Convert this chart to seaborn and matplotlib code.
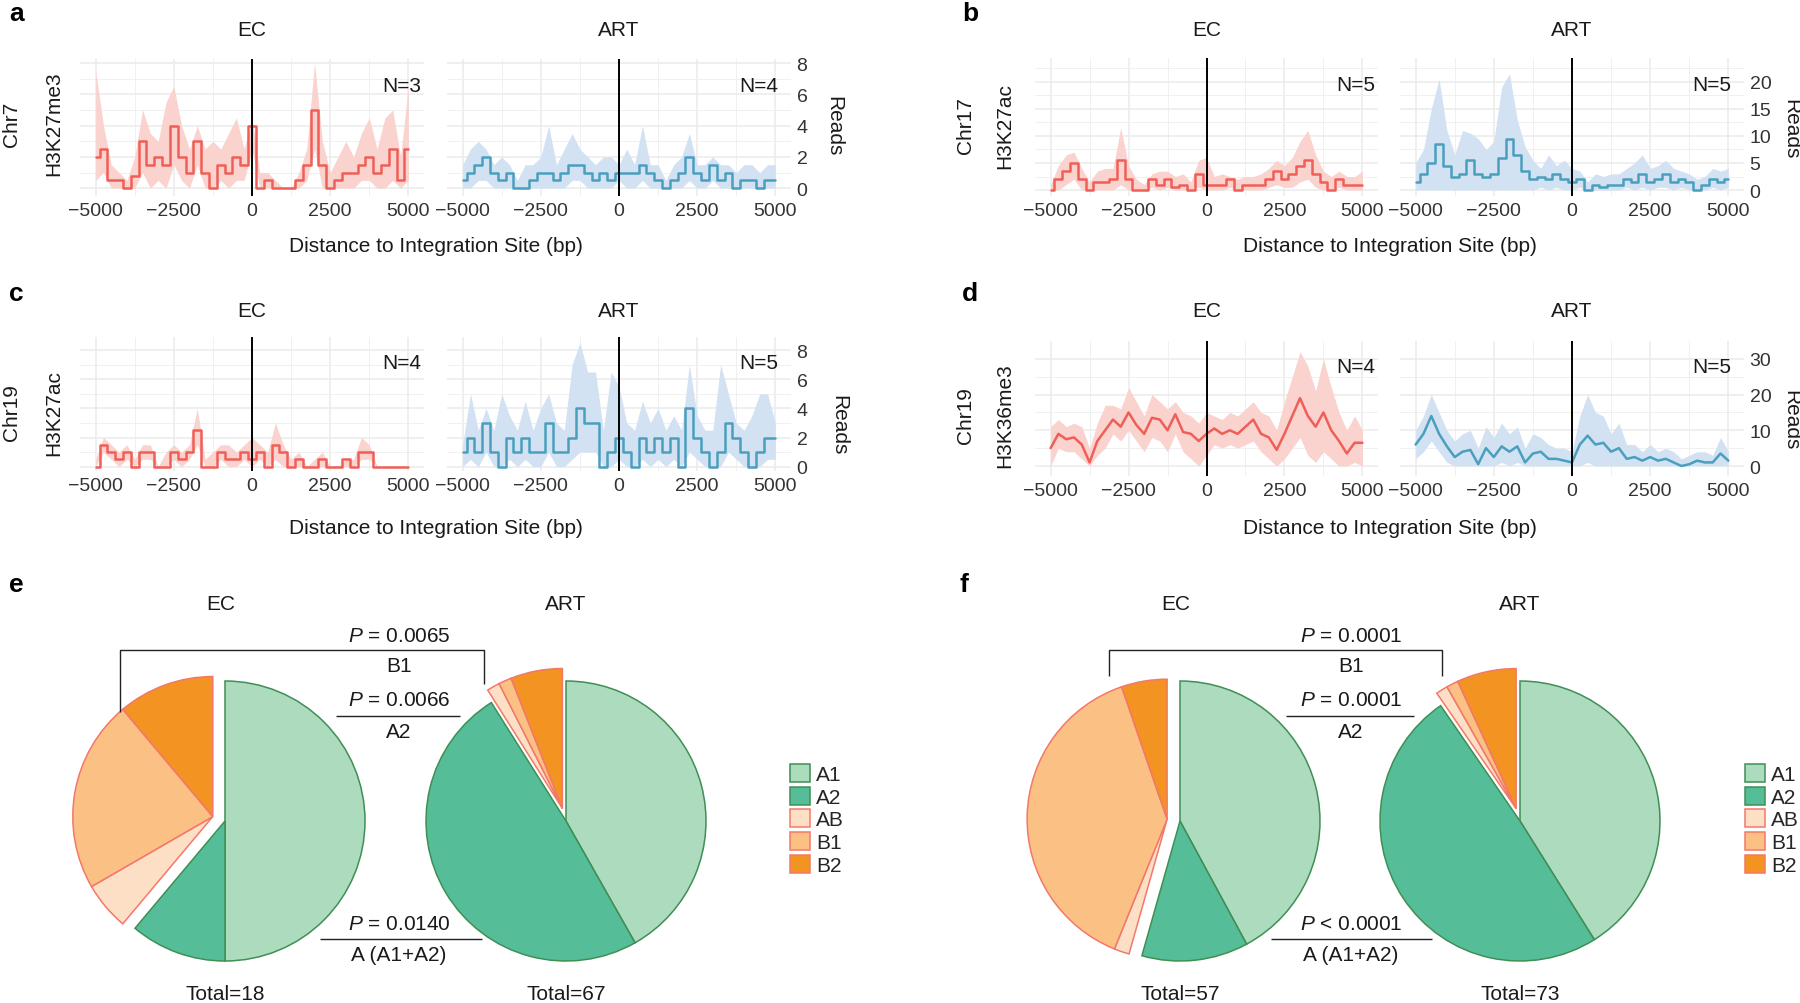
import numpy as np
import pandas as pd
import matplotlib
matplotlib.use('Agg')
import matplotlib.pyplot as plt
import seaborn as sns

W, H = 1800, 1004
FS = 15

sns.set_theme(style='white')
plt.rcParams['font.family'] = ['Liberation Sans', 'DejaVu Sans']
plt.rcParams['mathtext.fontset'] = 'custom'
plt.rcParams['mathtext.rm'] = 'Liberation Sans'
plt.rcParams['mathtext.it'] = 'Liberation Sans:italic'

# ---- read profiles, every 250 bp from -5000 to 5000 ----
dist = list(range(-5000, 5001, 250))

a_ec_mean = [2.0, 2.5, 0.5, 0.5, 0.0, 0.8, 3.0, 1.5, 2.0, 1.5,
             4.0, 2.0, 1.0, 3.0, 1.0, 0.0, 1.5, 1.0, 2.0, 1.5,
             4.0, 0.0, 0.5, 0.0, 0.0, 0.0, 0.5, 1.5, 5.0, 1.5,
             0.0, 0.5, 1.0, 1.0, 1.5, 2.0, 1.0, 1.5, 2.5, 0.5, 2.5]
a_ec_hi = [7.5, 4.0, 1.5, 1.0, 0.5, 2.0, 5.0, 3.5, 3.0, 5.5,
           6.5, 4.0, 2.5, 4.0, 2.5, 3.0, 2.5, 3.5, 4.5, 2.5,
           4.5, 1.0, 1.0, 0.5, 0.0, 0.0, 1.0, 2.5, 8.0, 3.0,
           1.0, 2.0, 3.0, 2.0, 3.5, 4.5, 2.5, 4.5, 5.0, 2.0, 6.5]
a_ec_lo = [0.5, 1.0, 0.0, 0.0, 0.0, 0.0, 1.0, 0.0, 0.5, 0.0,
           1.5, 0.5, 0.0, 1.5, 0.0, 0.0, 0.5, 0.0, 0.5, 0.5,
           2.5, 0.0, 0.0, 0.0, 0.0, 0.0, 0.0, 0.5, 2.5, 0.0,
           0.0, 0.0, 0.0, 0.0, 0.5, 0.5, 0.0, 0.0, 0.5, 0.0, 0.5]
a_art_mean = [0.5, 1.0, 1.5, 2.0, 1.0, 0.5, 1.0, 0.0, 0.0, 0.5,
              1.0, 1.0, 0.5, 1.0, 1.5, 1.5, 1.0, 0.5, 1.0, 0.5,
              1.0, 1.0, 1.0, 1.5, 1.0, 0.5, 0.0, 0.5, 1.0, 2.0,
              1.0, 0.5, 1.5, 0.5, 1.0, 0.0, 0.5, 0.5, 0.0, 0.5, 0.5]
a_art_hi = [1.5, 2.5, 3.0, 2.5, 1.5, 2.0, 1.5, 0.5, 1.5, 1.5,
            2.0, 4.0, 1.5, 2.5, 3.5, 2.5, 2.0, 1.5, 2.0, 2.0,
            1.5, 2.5, 1.5, 4.0, 1.5, 1.5, 0.5, 1.5, 2.0, 3.5,
            1.5, 1.5, 2.0, 1.5, 1.5, 1.0, 1.5, 1.5, 1.0, 1.5, 1.5]
a_art_lo = [0.0, 0.0, 0.5, 0.5, 0.0, 0.0, 0.0, 0.0, 0.0, 0.0,
            0.0, 0.0, 0.0, 0.0, 0.5, 0.5, 0.0, 0.0, 0.0, 0.0,
            0.5, 0.0, 0.0, 0.5, 0.0, 0.0, 0.0, 0.0, 0.0, 0.5,
            0.0, 0.0, 0.5, 0.0, 0.0, 0.0, 0.0, 0.0, 0.0, 0.0, 0.0]

b_ec_mean = [0.0, 2.0, 3.5, 5.0, 2.0, 0.0, 1.5, 1.5, 2.0, 5.5,
             2.0, 0.0, 0.0, 2.0, 1.0, 2.0, 0.5, 1.0, 0.0, 3.0,
             1.0, 1.0, 1.0, 2.0, 0.0, 1.0, 1.0, 1.0, 2.0, 3.5,
             2.0, 3.0, 4.5, 5.5, 3.0, 1.5, 0.0, 2.0, 1.0, 1.0, 1.0]
b_ec_hi = [1.0, 4.5, 6.5, 7.0, 4.0, 1.5, 3.5, 4.0, 4.0, 11.5,
           4.5, 2.0, 1.0, 3.0, 3.5, 3.5, 2.5, 3.0, 1.5, 5.5,
           6.0, 2.5, 3.0, 2.5, 2.0, 2.5, 2.5, 3.0, 4.0, 5.5,
           4.5, 6.0, 9.0, 11.0, 6.5, 3.5, 2.5, 3.5, 2.5, 2.5, 3.5]
b_ec_lo = [0.0, 0.0, 1.0, 2.0, 0.0, 0.0, 0.0, 0.0, 0.0, 1.0,
           0.0, 0.0, 0.0, 0.5, 0.0, 0.5, 0.0, 0.0, 0.0, 0.5,
           0.0, 0.0, 0.0, 0.5, 0.0, 0.0, 0.0, 0.0, 0.5, 1.0,
           0.5, 0.5, 1.5, 2.0, 0.5, 0.0, 0.0, 0.5, 0.0, 0.0, 0.0]
b_art_mean = [1.5, 3.0, 5.0, 8.5, 4.5, 2.5, 3.0, 5.5, 3.0, 2.5,
              3.0, 6.0, 9.5, 6.5, 3.5, 2.0, 2.5, 2.0, 3.0, 2.0,
              1.5, 2.0, 0.0, 1.0, 0.5, 1.0, 1.0, 2.0, 1.5, 3.0,
              1.5, 2.0, 3.0, 1.5, 2.0, 1.5, 0.0, 1.0, 2.0, 1.5, 2.0]
b_art_hi = [5.0, 7.5, 15.0, 20.5, 11.0, 6.5, 11.0, 10.5, 9.5, 7.5,
            9.0, 19.0, 21.5, 13.0, 8.0, 5.5, 4.0, 6.5, 4.5, 5.5,
            4.0, 3.5, 1.5, 3.0, 2.5, 3.0, 3.0, 4.0, 5.0, 6.5,
            4.0, 4.5, 5.5, 4.0, 3.5, 3.0, 2.0, 2.5, 4.0, 3.5, 4.0]
b_art_lo = [0.0, 0.0, 0.0, 0.0, 0.0, 0.0, 0.0, 0.0, 0.0, 0.0,
            0.0, 0.0, 0.0, 0.0, 0.0, 0.0, 0.5, 0.0, 0.5, 0.0,
            0.0, 0.5, 0.0, 0.0, 0.0, 0.0, 0.0, 0.5, 0.0, 0.5,
            0.0, 0.5, 0.5, 0.0, 0.5, 0.0, 0.0, 0.0, 0.5, 0.0, 0.5]

c_ec_mean = [0.0, 1.5, 1.0, 0.5, 1.0, 0.0, 1.0, 1.0, 0.0, 0.0,
             1.0, 0.5, 1.0, 2.5, 0.0, 0.0, 1.0, 0.5, 0.5, 1.0,
             0.5, 1.0, 0.0, 1.5, 1.0, 0.0, 0.5, 0.0, 0.0, 0.5,
             0.0, 0.0, 0.5, 0.0, 1.0, 1.0, 0.0, 0.0, 0.0, 0.0, 0.0]
c_ec_hi = [0.5, 2.0, 1.5, 1.0, 1.5, 0.5, 1.5, 1.5, 0.0, 1.0,
           1.5, 1.0, 1.5, 4.0, 0.5, 1.0, 1.5, 1.5, 1.0, 1.5,
           2.0, 1.5, 1.0, 3.0, 1.5, 0.5, 1.0, 0.0, 0.5, 1.0,
           0.0, 0.0, 0.5, 0.5, 2.0, 1.5, 0.0, 0.0, 0.0, 0.0, 0.0]
c_ec_lo = [0.0, 1.0, 0.5, 0.0, 0.5, 0.0, 0.5, 0.5, 0.0, 0.0,
           0.5, 0.0, 0.5, 1.5, 0.0, 0.0, 0.5, 0.0, 0.0, 0.5,
           0.0, 0.5, 0.0, 0.5, 0.0, 0.0, 0.0, 0.0, 0.0, 0.0,
           0.0, 0.0, 0.0, 0.0, 0.5, 0.5, 0.0, 0.0, 0.0, 0.0, 0.0]
c_art_mean = [1, 2, 1, 3, 1, 0, 2, 1, 2, 1,
              1, 3, 1, 1, 2, 4, 3, 3, 0, 1,
              2, 1, 0, 2, 1, 2, 1, 2, 0, 4,
              2, 1, 0, 1, 3, 2, 1, 0, 1, 2, 2]
c_art_hi = [1.5, 5.0, 2.5, 4.0, 2.5, 5.0, 3.5, 2.5, 4.5, 2.5,
            4.0, 5.0, 3.0, 2.5, 7.0, 8.5, 6.5, 6.5, 2.5, 6.5,
            5.5, 3.0, 2.5, 4.5, 3.0, 4.0, 2.5, 3.5, 2.5, 7.0,
            3.5, 2.5, 2.5, 7.0, 5.0, 3.0, 2.5, 3.5, 5.0, 5.0, 3.0]
c_art_lo = [0, 0.5, 0, 1, 0, 0, 0.5, 0, 0.5, 0,
            0, 1, 0, 0, 0.5, 1, 1, 1, 0, 0,
            0.5, 0, 0, 0.5, 0, 0.5, 0, 0.5, 0, 1,
            0.5, 0, 0, 0, 1, 0.5, 0, 0, 0, 0.5, 0.5]

d_ec_mean = [5.0, 9.0, 7.5, 8.0, 6.0, 1.0, 7.0, 10.0, 13.0, 11.0,
             15.0, 11.5, 9.0, 13.5, 13.0, 10.0, 14.5, 9.5, 9.0, 7.0,
             9.0, 10.5, 9.0, 10.0, 9.0, 11.0, 13.0, 9.0, 8.0, 4.5,
             9.0, 14.0, 19.0, 14.0, 11.0, 15.0, 10.0, 7.0, 3.5, 6.5, 6.5]
d_ec_hi = [11, 13, 11, 12, 11, 5, 12, 17, 17, 16,
           22, 18, 14, 20, 18, 16, 18, 15, 14, 12,
           15, 14, 13, 15, 14, 16, 18, 15, 14, 10,
           18, 25, 32, 28, 21, 30, 22, 15, 10, 14, 10]
d_ec_lo = [0, 5, 4, 4, 2, 0, 3, 5, 9, 7,
           10, 7, 4, 8, 7, 4, 9, 4, 2, 0,
           3, 6, 5, 6, 5, 6, 7, 4, 2, 0,
           2, 5, 8, 3, 1, 4, 2, 0, 0, 1, 0]
d_art_mean = [6.0, 9.0, 14.0, 9.0, 5.5, 2.5, 4.0, 4.5, 0.5, 5.0,
              2.5, 5.5, 4.0, 5.5, 1.0, 3.5, 4.0, 2.0, 2.0, 1.5,
              1.0, 6.0, 8.5, 6.0, 6.5, 4.0, 5.0, 2.0, 2.5, 1.5,
              2.5, 1.5, 2.0, 1.0, 0.0, 0.5, 1.5, 1.0, 1.0, 3.5, 1.5]
d_art_hi = [10, 14, 20, 15, 10, 7, 9, 10, 5, 11,
            8, 12, 9, 11, 5, 9, 8, 6, 5, 5,
            4, 14, 20, 15, 14, 9, 12, 6, 6, 4,
            6, 4, 5, 4, 2, 3, 4, 4, 3, 8, 4]
d_art_lo = [2, 4, 7, 4, 1, 0, 0, 0, 0, 0,
            0, 1, 0, 1, 0, 0, 0, 0, 0, 0,
            0, 0, 1, 0, 0, 0, 0, 0, 0, 0,
            0, 0, 0, 0, 0, 0, 0, 0, 0, 0, 0]

# ---- pie counts ----
cats = ['A1', 'A2', 'AB', 'B1', 'B2']
e_ec = [9, 2, 1, 4, 2]
e_art = [28, 33, 1, 1, 4]
f_ec = [24, 7, 1, 22, 3]
f_art = [30, 36, 1, 1, 5]

EC_LINE, EC_BAND = '#EF5F58', '#FAD2CE'
ART_LINE, ART_BAND = '#4A9FBF', '#D2E2F3'
pie_colors = ['#ADDBBE', '#55BE99', '#FDDFC5', '#FBC083', '#F29322']
pie_edges = ['#3F8F55', '#3F8F55', '#F4786A', '#F4786A', '#F4786A']

fig = plt.figure(figsize=(W / 100, H / 100), dpi=100)


def box(l, t, r, b):
    return [l / W, 1 - b / H, (r - l) / W, (b - t) / H]


def ftext(x, y, s, **kw):
    kw.setdefault('fontsize', FS)
    kw.setdefault('ha', 'center')
    kw.setdefault('va', 'center')
    kw.setdefault('color', '#1a1a1a')
    fig.text(x / W, 1 - y / H, s, **kw)


def track(rect, mean, lo, hi, color, band, ylim, yticks, yminor, nlab, nx, right, steps):
    ax = fig.add_axes(box(*rect))
    df = pd.DataFrame({'dist': dist, 'reads': mean})
    # the spread band is drawn unstepped so it reads as thin spikes
    ax.fill_between(dist, lo, hi, color=band, lw=0)
    sns.lineplot(data=df, x='dist', y='reads', ax=ax, color=color, lw=1.8,
                 drawstyle='steps-mid' if steps else 'default')
    ax.axvline(0, color='black', lw=1.4)
    ax.set_xlim(-5500, 5500)
    ax.set_ylim(*ylim)
    ax.set_xticks([-5000, -2500, 0, 2500, 5000])
    ax.set_xticks([-3750, -1250, 1250, 3750], minor=True)
    ax.set_yticks(yticks)
    ax.set_yticks(yminor, minor=True)
    ax.grid(which='major', color='#EBEBEB', lw=1.1)
    ax.grid(which='minor', color='#F0F0F0', lw=0.7)
    ax.set_axisbelow(True)
    for s in ax.spines.values():
        s.set_visible(False)
    ax.tick_params(which='both', length=0, labelsize=14, labelcolor='#333333', pad=4)
    ax.set_xlabel('')
    ax.set_ylabel('')
    if right:
        ax.yaxis.tick_right()
    else:
        ax.set_yticklabels([])
    ax.text(nx, 0.81, nlab, transform=ax.get_xaxis_transform(), ha='right', va='center',
            fontsize=FS, color='#1a1a1a')
    return ax


panels = [
    dict(letter='a', lx=9, ly=14, ec=(80, 60, 424, 197), art=(447, 60, 791, 197),
         data=(a_ec_mean, a_ec_lo, a_ec_hi, a_art_mean, a_art_lo, a_art_hi),
         ylim=(-0.5, 8.26), ticks=[0, 2, 4, 6, 8], minor=[1, 3, 5, 7],
         n=('N=3', 'N=4'), steps=True, chrom='Chr7', mark='H3K27me3',
         cx=(11, 54), cy=124, rx=834, ry=126, ty=30, xy=247),
    dict(letter='b', lx=962, ly=14, ec=(1035, 59, 1378, 197), art=(1400, 59, 1744, 197),
         data=(b_ec_mean, b_ec_lo, b_ec_hi, b_art_mean, b_art_lo, b_art_hi),
         ylim=(-1.1, 24.4), ticks=[0, 5, 10, 15, 20], minor=[2.5, 7.5, 12.5, 17.5, 22.5],
         n=('N=5', 'N=5'), steps=True, chrom='Chr17', mark='H3K27ac',
         cx=(965, 1005), cy=126, rx=1791, ry=129, ty=30, xy=247),
    dict(letter='c', lx=9, ly=294, ec=(80, 338, 424, 472), art=(447, 338, 791, 472),
         data=(c_ec_mean, c_ec_lo, c_ec_hi, c_art_mean, c_art_lo, c_art_hi),
         ylim=(-0.3, 8.9), ticks=[0, 2, 4, 6, 8], minor=[1, 3, 5, 7],
         n=('N=4', 'N=5'), steps=True, chrom='Chr19', mark='H3K27ac',
         cx=(11, 54), cy=413, rx=839, ry=425, ty=312, xy=529),
    dict(letter='d', lx=962, ly=294, ec=(1035, 342, 1378, 477), art=(1400, 342, 1744, 477),
         data=(d_ec_mean, d_ec_lo, d_ec_hi, d_art_mean, d_art_lo, d_art_hi),
         ylim=(-2.8, 35), ticks=[0, 10, 20, 30], minor=[5, 15, 25],
         n=('N=4', 'N=5'), steps=False, chrom='Chr19', mark='H3K36me3',
         cx=(965, 1005), cy=416, rx=1791, ry=420, ty=312, xy=529),
]

for p in panels:
    em, el, eh, am, al, ah = p['data']
    track(p['ec'], em, el, eh, EC_LINE, EC_BAND, p['ylim'], p['ticks'], p['minor'],
          p['n'][0], 5400, False, p['steps'])
    track(p['art'], am, al, ah, ART_LINE, ART_BAND, p['ylim'], p['ticks'], p['minor'],
          p['n'][1], 5080, True, p['steps'])
    ftext(p['lx'], p['ly'], p['letter'], fontsize=19, fontweight='bold', ha='left', color='black')
    ftext((p['ec'][0] + p['ec'][2]) / 2, p['ty'], 'EC')
    ftext((p['art'][0] + p['art'][2]) / 2, p['ty'], 'ART')
    ftext((p['ec'][0] + p['art'][2]) / 2, p['xy'], 'Distance to Integration Site (bp)')
    ftext(p['cx'][0], p['cy'], p['chrom'], rotation=90)
    ftext(p['cx'][1], p['cy'], p['mark'], rotation=90)
    ftext(p['rx'], p['ry'], 'Reads', rotation=270)

# ---- pie charts ----
pax = fig.add_axes([0, 0, 1, 1])
pax.set_axis_off()


def pie(cx, cy, values, r=140, gap=13):
    wedges, _ = pax.pie(values, colors=pie_colors, startangle=90, counterclock=False,
                        radius=r, center=(cx, H - cy), wedgeprops=dict(linewidth=1.1))
    for w, ec in zip(wedges, pie_edges):
        w.set_edgecolor(ec)
    # B-type slices are pulled out together along the bisector of their group
    frac_a = sum(values[:2]) / sum(values)
    ang = np.deg2rad(90 - 360 * (frac_a + 1) / 2)
    for w in wedges[2:]:
        w.set_center((cx + gap * np.cos(ang), H - cy + gap * np.sin(ang)))
    return wedges


def bracket(xs, ys):
    pax.plot(xs, [H - y for y in ys], color='#222222', lw=1.0, solid_capstyle='butt')


pie_rows = [
    dict(letter='e', lx=9, ec=(225, 822), art=(566, 822), vals=(e_ec, e_art),
         tot=('Total=18', 'Total=67'), px=399, top=(120, 484, 713, 685),
         mid=(336, 460), bot=(320, 482),
         p=(r'$\mathit{P}$ = 0.0065', r'$\mathit{P}$ = 0.0066', r'$\mathit{P}$ = 0.0140'),
         leg=790),
    dict(letter='f', lx=959, ec=(1180, 822), art=(1520, 822), vals=(f_ec, f_art),
         tot=('Total=57', 'Total=73'), px=1351, top=(1109, 1442, 677, 677),
         mid=(1286, 1414), bot=(1271, 1432),
         p=(r'$\mathit{P}$ = 0.0001', r'$\mathit{P}$ = 0.0001', r'$\mathit{P}$ < 0.0001'),
         leg=1745),
]

for row in pie_rows:
    w_ec = pie(*row['ec'], row['vals'][0])
    pie(*row['art'], row['vals'][1])
    ftext(row['lx'], 585, row['letter'], fontsize=19, fontweight='bold', ha='left', color='black')
    ftext(row['ec'][0] - 4, 604, 'EC')
    ftext(row['art'][0], 604, 'ART')
    ftext(row['ec'][0], 995, row['tot'][0])
    ftext(row['art'][0], 995, row['tot'][1])
    x0, x1, yl, yr = row['top']
    bracket([x0, x0, x1, x1], [yl, 651, 651, yr])
    bracket(list(row['mid']), [717, 717])
    bracket(list(row['bot']), [940, 940])
    ftext(row['px'], 636, row['p'][0])
    ftext(row['px'], 667, 'B1')
    ftext(row['px'], 701, row['p'][1])
    ftext(row['px'], 732, 'A2')
    ftext(row['px'], 925, row['p'][2])
    ftext(row['px'], 956, 'A (A1+A2)')
    fig.legend(handles=w_ec, labels=cats, loc='upper left',
               bbox_to_anchor=(row['leg'] / W, 1 - 765 / H), bbox_transform=fig.transFigure,
               frameon=False, fontsize=FS, handlelength=0.95, handleheight=0.95,
               handletextpad=0.3, labelspacing=0.12, borderpad=0, borderaxespad=0)

pax.set_xlim(0, W)
pax.set_ylim(0, H)

fig.savefig('out.png', dpi=100, facecolor='white')
